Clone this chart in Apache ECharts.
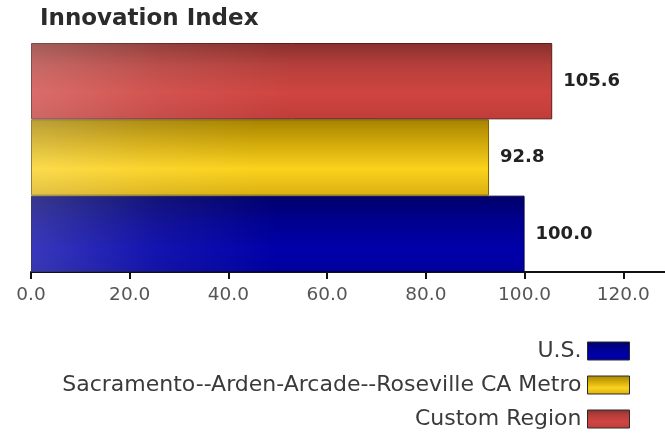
<!DOCTYPE html>
<html>
<head>
<meta charset="utf-8">
<title>Innovation Index</title>
<script src="https://cdn.jsdelivr.net/npm/echarts@6/dist/echarts.min.js"></script>
<style>
  html, body { margin: 0; padding: 0; background: #ffffff; overflow: hidden; width: 665px; height: 439px; }
  /* the value axis runs on past the right edge of the page */
  #chart { width: 725px; height: 439px; }
</style>
</head>
<body>
<div id="chart"></div>
<script>
// Regions shown as horizontal bars, bottom to top
const regions = ['U.S.', 'Sacramento--Arden-Arcade--Roseville CA Metro', 'Custom Region'];
const indexValues = [100.0, 92.8, 105.6];
const xTicks = [0, 20, 40, 60, 80, 100, 120];

const FONT = 'DejaVu Sans';

// Vertical shading for each bar (dark top edge, bright middle)
const shades = [
  [[0, '#00006a'], [0.35, '#000090'], [0.7, '#0000aa'], [1, '#00009e']],
  [[0, '#a68300'], [0.3, '#cfa70a'], [0.65, '#fbd21c'], [1, '#d9b012']],
  [[0, '#88302c'], [0.3, '#b63f3b'], [0.65, '#cf4440'], [1, '#c03d3a']]
];
const borders = ['#00004a', '#7a6000', '#5e1c1a'];

function vGrad(stops) {
  return new echarts.graphic.LinearGradient(0, 0, 0, 1,
    stops.map(s => ({ offset: s[0], color: s[1] })));
}

const colorSeries = regions.map((name, i) => ({
  name: name,
  type: 'bar',
  stack: 'value',
  barWidth: '100%',
  barGap: '-100%',
  data: indexValues.map((v, j) => (j === i ? v : '-')),
  itemStyle: {
    color: vGrad(shades[i]),
    borderColor: borders[i],
    borderWidth: 1
  },
  label: {
    show: true,
    position: 'right',
    distance: 11,
    formatter: p => Number(p.value).toFixed(1),
    fontFamily: FONT,
    fontSize: 18,
    fontWeight: 'bold',
    color: '#222222'
  }
}));

// Soft highlight along the left end of every bar
const sheen = {
  name: 'sheen',
  type: 'bar',
  stack: 'sheen',
  barWidth: '100%',
  barGap: '-100%',
  silent: true,
  data: indexValues.slice(),
  itemStyle: {
    color: new echarts.graphic.LinearGradient(0, 0, 1, 0, [
      { offset: 0, color: 'rgba(255,255,255,0.22)' },
      { offset: 0.25, color: 'rgba(255,255,255,0.08)' },
      { offset: 0.5, color: 'rgba(255,255,255,0)' },
      { offset: 1, color: 'rgba(255,255,255,0)' }
    ])
  },
  label: { show: false },
  tooltip: { show: false }
};

const chart = echarts.init(document.getElementById('chart'), null, { renderer: 'canvas' });

// Legend sits at its right edge 35px in from the visible page edge
const hiddenRight = 725 - 665;

chart.setOption({
  animation: false,
  backgroundColor: '#ffffff',
  title: {
    text: 'Innovation Index',
    left: 40,
    top: 8,
    padding: 0,
    textStyle: {
      fontFamily: FONT,
      fontSize: 23,
      fontWeight: 'bold',
      color: '#2b2b2b'
    }
  },
  legend: {
    data: regions,
    orient: 'vertical',
    right: 35 + hiddenRight,
    top: 340,
    height: 200,
    align: 'right',
    icon: 'rect',
    itemWidth: 42,
    itemHeight: 18,
    itemGap: 12,
    padding: 0,
    selectedMode: false,
    textStyle: {
      fontFamily: FONT,
      fontSize: 22,
      color: '#3a3a3a',
      lineHeight: 18,
      padding: [0, 1, 0, 0]
    },
    itemStyle: { borderColor: '#2a2a2a', borderWidth: 1 }
  },
  grid: {
    left: 31,
    right: 0,
    top: 43,
    bottom: 167,
    containLabel: false
  },
  xAxis: {
    type: 'value',
    min: 0,
    max: 140,
    interval: 20,
    axisLine: { show: true, lineStyle: { color: '#111111', width: 2 } },
    axisTick: { show: true, length: 7, lineStyle: { color: '#111111', width: 2 } },
    splitLine: { show: false },
    axisLabel: {
      margin: 14,
      fontFamily: FONT,
      fontSize: 18.5,
      color: '#555555',
      formatter: v => (xTicks.indexOf(v) >= 0 ? v.toFixed(1) : '')
    }
  },
  yAxis: {
    type: 'category',
    data: regions,
    axisLine: { show: false },
    axisTick: { show: false },
    axisLabel: { show: false },
    splitLine: { show: false }
  },
  series: [...colorSeries, sheen]
});
</script>
</body>
</html>
